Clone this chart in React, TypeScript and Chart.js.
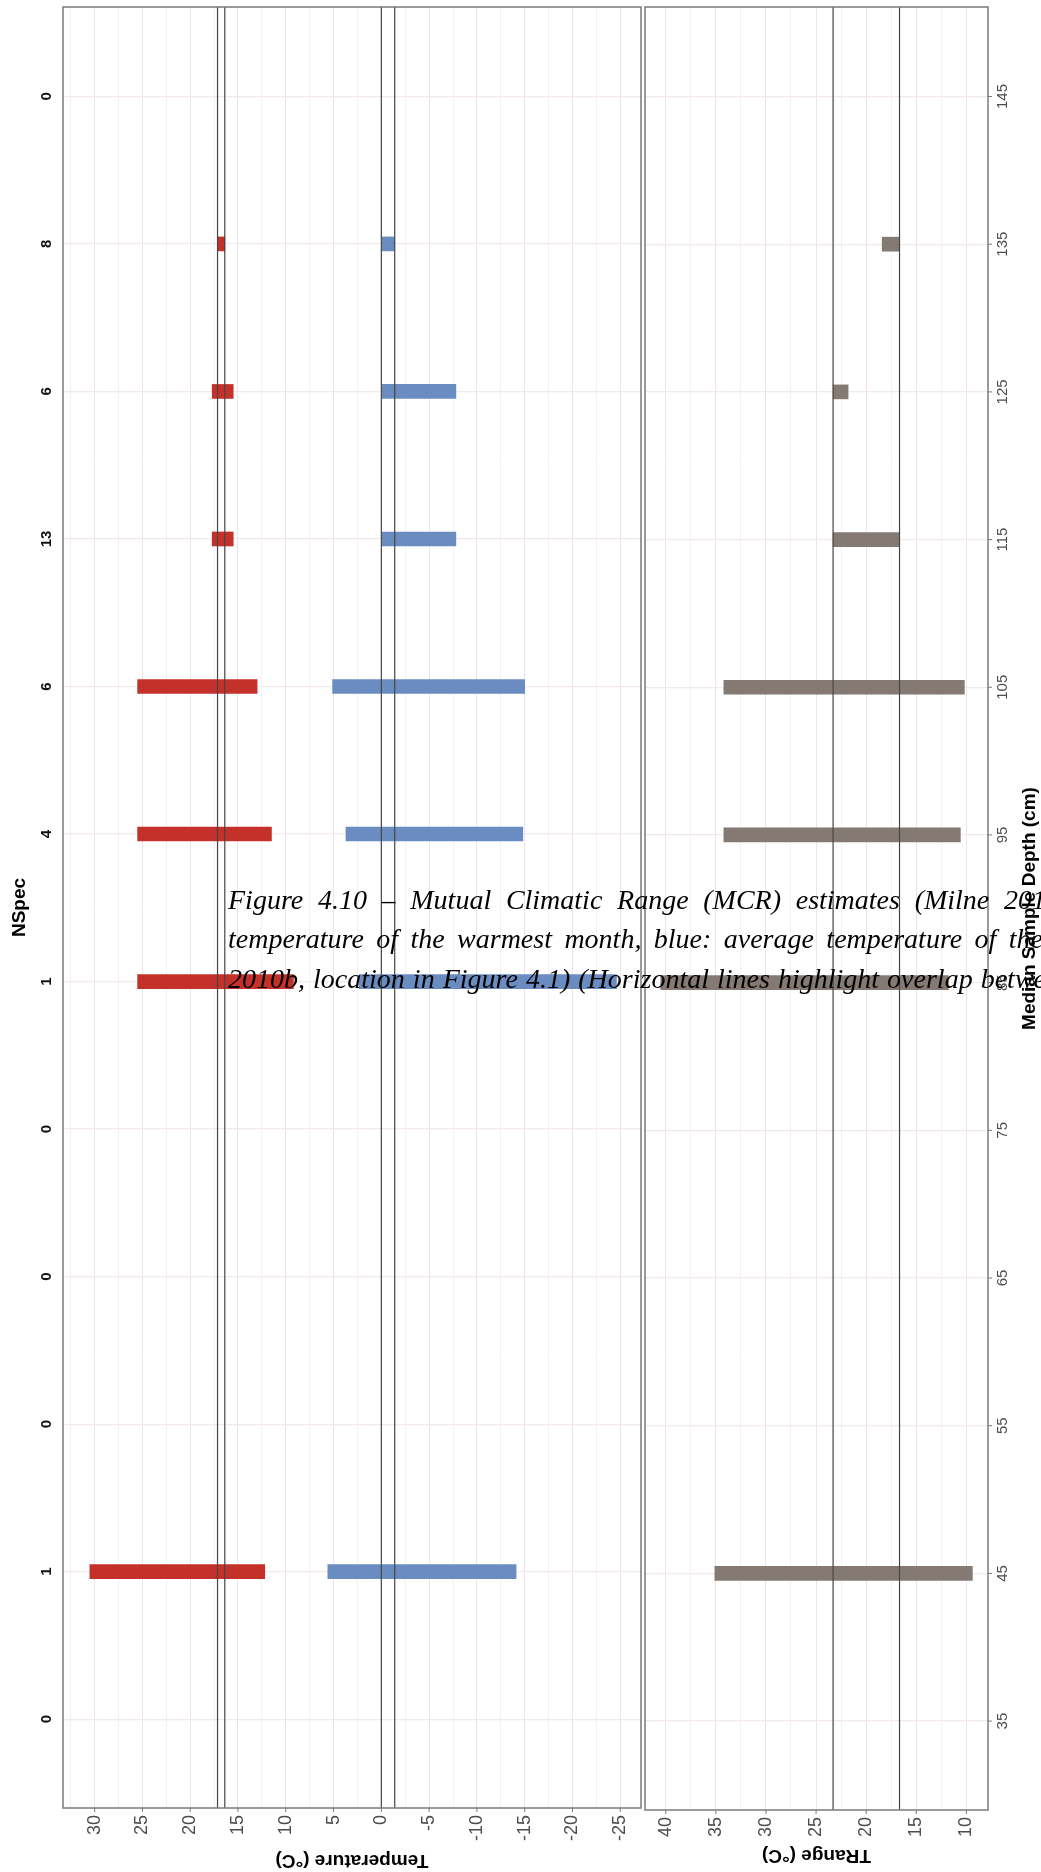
import React, { useEffect, useRef } from "react";
import { Chart, registerables } from "chart.js";

Chart.register(...registerables);

// ---------- data ----------
const depths = [35, 45, 55, 65, 75, 85, 95, 105, 115, 125, 135, 145];
const nSpec = [0, 1, 0, 0, 0, 1, 4, 6, 13, 6, 8, 0];

const barDepths = [45, 85, 95, 105, 115, 125, 135];
const mtwaMax = [30.5, 25.5, 25.5, 25.5, 17.7, 17.7, 17.14];
const mtwaMin = [12.2, 9.2, 11.5, 13.0, 15.5, 15.5, 16.38];
const mtcoMax = [5.6, 2.3, 3.7, 5.1, 0, 0, 0];
const mtcoMin = [-14.1, -24.6, -14.8, -15.0, -7.8, -7.8, -1.4];
const trangeMax = [35.1, 40.5, 34.2, 34.2, 23.3, 23.3, 18.4];
const trangeMin = [9.4, 11.8, 10.6, 10.2, 16.67, 21.8, 16.67];

const tempOverlap = [17.14, 16.38, 0, -1.4];
const trangeOverlap = [23.3, 16.67];

const tempTicks = [30, 25, 20, 15, 10, 5, 0, -5, -10, -15, -20, -25];
const trangeTicks = [40, 35, 30, 25, 20, 15, 10];

const captionLines = [
  "Figure 4.10 \u2013 Mutual Climatic Range (MCR) estimates (Milne 201",
  "temperature of the warmest month, blue: average temperature of the",
  "2010b, location in Figure 4.1) (Horizontal lines highlight overlap betwe",
];

// ---------- style ----------
const RED = "#c4302a";
const BLUE = "#6a8cc0";
const GREY = "#857a73";
const BORDER = "#7a7a7a";
const LINE = "#454545";
const GRID_MAJ = "#ebe5e8";
const GRID_MIN = "#f5f1f3";
const GRID_H = "#f3e8ec";
const TICK_TXT = "#4d4d4d";
const SANS = "'Liberation Sans', Arial, sans-serif";

const Y_MIN = 28.98;
const Y_MAX = 151.06;

function drawRot(ctx: CanvasRenderingContext2D, text: string, x: number, y: number, angle: number, font: string, color: string, align: CanvasTextAlign) {
  ctx.save();
  ctx.translate(x, y);
  ctx.rotate(angle);
  ctx.font = font;
  ctx.fillStyle = color;
  ctx.textAlign = align;
  ctx.textBaseline = "middle";
  ctx.fillText(text, 0, 0);
  ctx.restore();
}

function gridTicks(min: number, max: number) {
  const out: { value: number }[] = [];
  for (let v = Math.ceil(min / 2.5) * 2.5; v <= max; v += 2.5) out.push({ value: v });
  return out;
}

function gridColor(c: any) {
  const v = c.tick ? c.tick.value : 0;
  return Math.abs(v % 5) < 1e-6 ? GRID_MAJ : GRID_MIN;
}

function yAxis(position: "left" | "right", width: number) {
  return {
    type: "linear",
    position,
    min: Y_MIN,
    max: Y_MAX,
    offset: false,
    afterBuildTicks: (s: any) => {
      s.ticks = depths.map((v) => ({ value: v }));
    },
    afterFit: (s: any) => {
      s.width = width;
    },
    ticks: { display: false },
    grid: { color: GRID_H, lineWidth: 1.2, drawTicks: false, offset: false },
    border: { display: false },
  };
}

function xAxis(min: number, max: number, height: number) {
  return {
    type: "linear",
    min,
    max,
    reverse: true,
    afterBuildTicks: (s: any) => {
      s.ticks = gridTicks(min, max);
    },
    afterFit: (s: any) => {
      s.height = height;
    },
    ticks: { display: false },
    grid: { color: gridColor, lineWidth: 1, drawTicks: false },
    border: { display: false },
  };
}

function decorate(chart: any, overlap: number[], xticks: number[], side: "left" | "right", labelX: number, titleX: number, xTitle: string, xTitleY: number) {
  const ctx: CanvasRenderingContext2D = chart.ctx;
  const a = chart.chartArea;
  const x = chart.scales.x;
  const y = chart.scales.y;
  ctx.save();
  // overlap lines
  ctx.strokeStyle = LINE;
  ctx.lineWidth = 1.2;
  overlap.forEach((v) => {
    const px = x.getPixelForValue(v);
    ctx.beginPath();
    ctx.moveTo(px, a.top);
    ctx.lineTo(px, a.bottom);
    ctx.stroke();
  });
  // panel border
  ctx.strokeStyle = BORDER;
  ctx.lineWidth = 1.5;
  ctx.strokeRect(a.left, a.top, a.right - a.left, a.bottom - a.top);
  // bottom ticks
  ctx.lineWidth = 1;
  xticks.forEach((v) => {
    const px = x.getPixelForValue(v);
    ctx.beginPath();
    ctx.moveTo(px, a.bottom);
    ctx.lineTo(px, a.bottom + 4);
    ctx.stroke();
  });
  // bottom tick labels (rotated, reading upward)
  xticks.forEach((v) => {
    drawRot(ctx, String(v), x.getPixelForValue(v), a.bottom + 7, -Math.PI / 2, `18px ${SANS}`, TICK_TXT, "right");
  });
  // bottom title (upside down)
  drawRot(ctx, xTitle, (a.left + a.right) / 2, xTitleY, Math.PI, `bold 19px ${SANS}`, "#000", "center");
  const midY = (a.top + a.bottom) / 2;
  if (side === "left") {
    depths.forEach((d, i) => {
      drawRot(ctx, String(nSpec[i]), labelX, y.getPixelForValue(d), -Math.PI / 2, `bold 15px ${SANS}`, "#111", "center");
    });
    drawRot(ctx, "NSpec", titleX, midY, -Math.PI / 2, `bold 19px ${SANS}`, "#000", "center");
  } else {
    depths.forEach((d) => {
      const py = y.getPixelForValue(d);
      ctx.beginPath();
      ctx.moveTo(a.right, py);
      ctx.lineTo(a.right + 4, py);
      ctx.stroke();
      drawRot(ctx, String(d), labelX, py, -Math.PI / 2, `15px ${SANS}`, TICK_TXT, "center");
    });
    drawRot(ctx, "Median Sample Depth (cm)", titleX, midY, -Math.PI / 2, `bold 19px ${SANS}`, "#000", "center");
  }
  ctx.restore();
}

const LEFT_W = 643;
const RIGHT_X = 643;
const RIGHT_W = 398;
const H = 1872;

export default function App() {
  const leftRef = useRef<HTMLCanvasElement>(null);
  const rightRef = useRef<HTMLCanvasElement>(null);

  useEffect(() => {
    const left = new Chart(leftRef.current as HTMLCanvasElement, {
      type: "bar",
      data: {
        datasets: [
          {
            label: "MTWA",
            data: barDepths.map((d, i) => ({ y: d, x: [mtwaMin[i], mtwaMax[i]] })) as any,
            backgroundColor: RED,
            barThickness: 14,
            grouped: false,
          } as any,
          {
            label: "MTCO",
            data: barDepths.map((d, i) => ({ y: d, x: [mtcoMin[i], mtcoMax[i]] })) as any,
            backgroundColor: BLUE,
            barThickness: 14,
            grouped: false,
          } as any,
        ],
      },
      options: {
        indexAxis: "y",
        animation: false,
        responsive: false,
        devicePixelRatio: 1,
        layout: { padding: { top: 7, left: 0, right: 2, bottom: 0 } },
        plugins: { legend: { display: false }, tooltip: { enabled: false } },
        scales: {
          x: xAxis(-27.17, 33.31, H - 1808) as any,
          y: yAxis("left", 63) as any,
        },
      },
      plugins: [
        {
          id: "leftDecor",
          afterDatasetsDraw: (chart: any) =>
            decorate(chart, tempOverlap, tempTicks, "left", 46.7, 20, "Temperature (\u00b0C)", 1860),
        },
      ],
    });

    const right = new Chart(rightRef.current as HTMLCanvasElement, {
      type: "bar",
      data: {
        datasets: [
          {
            label: "TRange",
            data: barDepths.map((d, i) => ({ y: d, x: [trangeMin[i], trangeMax[i]] })) as any,
            backgroundColor: GREY,
            barThickness: 14,
            grouped: false,
          } as any,
        ],
      },
      options: {
        indexAxis: "y",
        animation: false,
        responsive: false,
        devicePixelRatio: 1,
        layout: { padding: { top: 7, left: 2, right: 0, bottom: 0 } },
        plugins: { legend: { display: false }, tooltip: { enabled: false } },
        scales: {
          x: xAxis(7.84, 42.07, H - 1810) as any,
          y: yAxis("right", 53) as any,
        },
      },
      plugins: [
        {
          id: "rightDecor",
          afterDatasetsDraw: (chart: any) =>
            decorate(chart, trangeOverlap, trangeTicks, "right", 1002.7 - RIGHT_X, 1030 - RIGHT_X, "TRange (\u00b0C)", 1855),
        },
      ],
    });

    return () => {
      left.destroy();
      right.destroy();
    };
  }, []);

  const captionTops = [885.5, 925, 964.5];
  const captionWidths = [818, 815, 818];

  return (
    <div style={{ position: "absolute", left: 0, top: 0, width: 1041, height: H, overflow: "hidden", background: "#fff" }}>
      <canvas ref={leftRef} width={LEFT_W} height={H} style={{ position: "absolute", left: 0, top: 0, width: LEFT_W, height: H }} />
      <canvas ref={rightRef} width={RIGHT_W} height={H} style={{ position: "absolute", left: RIGHT_X, top: 0, width: RIGHT_W, height: H }} />
      {captionLines.map((t, i) => (
        <div
          key={i}
          style={{
            position: "absolute",
            left: 228,
            top: captionTops[i],
            width: captionWidths[i],
            fontFamily: "'Liberation Serif', 'Times New Roman', serif",
            fontStyle: "italic",
            fontSize: 28,
            lineHeight: "28px",
            color: "#000",
            textAlign: "justify",
            textAlignLast: "justify" as any,
          }}
        >
          {t}
        </div>
      ))}
    </div>
  );
}
